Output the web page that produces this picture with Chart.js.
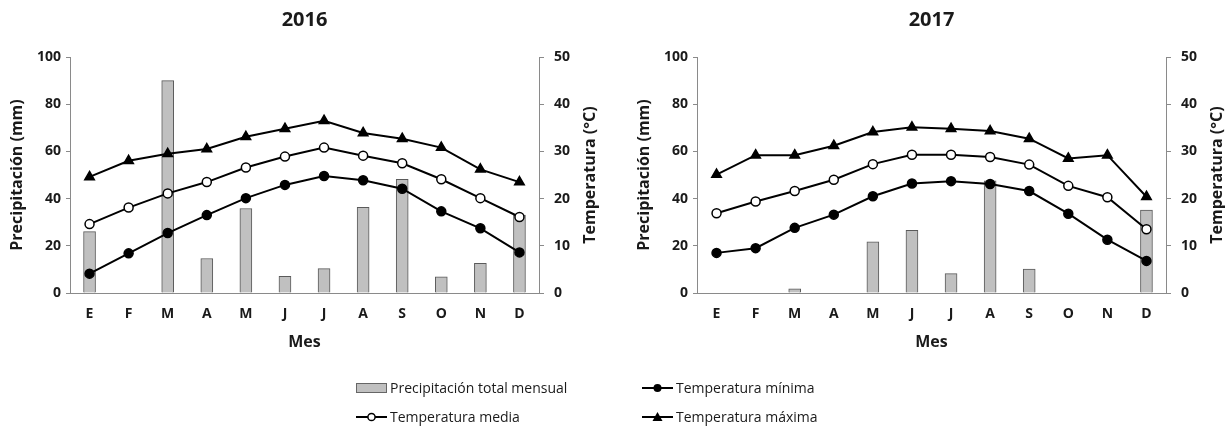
<!DOCTYPE html>
<html>
<head>
<meta charset="utf-8">
<script src="https://cdn.jsdelivr.net/npm/chart.js@4"></script>
<style>
  body { margin: 0; background: #fff; width: 1225px; height: 431px; position: relative; overflow: hidden; font-family: "Open Sans", sans-serif; }
  .box { position: absolute; top: 0; width: 600px; height: 360px; }
  #legend { position: absolute; left: 0; top: 0; width: 1225px; height: 431px; pointer-events: none; }
  .item { position: absolute; display: flex; align-items: center; font-size: 14px; color: #1a1a1a; white-space: nowrap; }
  .item svg { margin-right: 3px; }
</style>
</head>
<body>
<div class="box" style="left:0"><canvas id="chart2016" width="600" height="360"></canvas></div>
<div class="box" style="left:627px"><canvas id="chart2017" width="600" height="360"></canvas></div>

<div id="legend">
  <div class="item" style="left:356px; top:378px">
    <svg width="31" height="12"><rect x="0.5" y="1.5" width="30" height="9" fill="#c0c0c0" stroke="#666"/></svg>
    Precipitación total mensual
  </div>
  <div class="item" style="left:642px; top:378px">
    <svg width="31" height="12"><line x1="0" y1="6" x2="31" y2="6" stroke="#000" stroke-width="2"/><circle cx="15.5" cy="6" r="4" fill="#000"/></svg>
    Temperatura mínima
  </div>
  <div class="item" style="left:356px; top:407px">
    <svg width="31" height="12"><line x1="0" y1="6" x2="31" y2="6" stroke="#000" stroke-width="2"/><circle cx="15.5" cy="6" r="3.6" fill="#fff" stroke="#000" stroke-width="1.5"/></svg>
    Temperatura media
  </div>
  <div class="item" style="left:642px; top:407px">
    <svg width="31" height="12"><line x1="0" y1="6" x2="31" y2="6" stroke="#000" stroke-width="2"/><polygon points="15.5,1 20.5,10 10.5,10" fill="#000"/></svg>
    Temperatura máxima
  </div>
</div>

<script>
// datos
const meses = ["E", "F", "M", "A", "M", "J", "J", "A", "S", "O", "N", "D"];

const precip2016 = [26, 0, 90, 14.6, 35.8, 7.1, 10.3, 36.3, 48.2, 6.8, 12.6, 33];
const tMin2016 = [4.1, 8.4, 12.7, 16.5, 20.1, 22.9, 24.8, 23.9, 22.1, 17.3, 13.7, 8.6];
const tMed2016 = [14.6, 18.1, 21.1, 23.5, 26.6, 28.9, 30.8, 29.1, 27.5, 24.1, 20.1, 16.1];
const tMax2016 = [24.6, 28.0, 29.5, 30.5, 33.1, 34.8, 36.5, 33.9, 32.7, 30.8, 26.2, 23.5];

const precip2017 = [0, 0, 1.8, 0, 21.7, 26.6, 8.2, 47.5, 10.1, 0, 0, 35.1];
const tMin2017 = [8.5, 9.5, 13.8, 16.6, 20.5, 23.2, 23.7, 23.1, 21.6, 16.8, 11.3, 6.8];
const tMed2017 = [16.9, 19.4, 21.6, 24.0, 27.3, 29.3, 29.3, 28.8, 27.2, 22.7, 20.3, 13.5];
const tMax2017 = [25.1, 29.2, 29.2, 31.2, 34.1, 35.1, 34.8, 34.3, 32.7, 28.5, 29.2, 20.4];

const precipTicks = [0, 20, 40, 60, 80, 100];
const tempTicks = [0, 10, 20, 30, 40, 50];

const textColor = "#1a1a1a";
const axisColor = "#8a8a8a";
const tickFont = { family: "Open Sans", size: 14, weight: "bold" };
const titleFont = { family: "Open Sans", size: 16, weight: "bold" };

// titulo del eje derecho, girado igual que el izquierdo
const rightTitlePlugin = {
  id: "rightTitle",
  afterDraw(chart) {
    const { ctx, chartArea } = chart;
    ctx.save();
    ctx.font = "bold 16px 'Open Sans'";
    ctx.fillStyle = textColor;
    ctx.textAlign = "center";
    ctx.textBaseline = "middle";
    ctx.translate(chart.width - 10, (chartArea.top + chartArea.bottom) / 2);
    ctx.rotate(-Math.PI / 2);
    ctx.fillText("Temperatura (°C)", 0, 0);
    ctx.restore();
  },
};

const lineSet = (label, data, style, fill) => ({
  type: "line",
  label,
  data,
  yAxisID: "yT",
  borderColor: "#000",
  borderWidth: 2,
  pointStyle: style,
  pointRadius: style === "triangle" ? 5.5 : 4.5,
  pointBackgroundColor: fill,
  pointBorderColor: "#000",
  pointBorderWidth: 1.5,
  order: 1,
});

const buildChart = (id, title, precip, tMin, tMed, tMax) => {
  const config = {
    type: "bar",
    data: {
      labels: meses,
      datasets: [
        lineSet("Temperatura máxima", tMax, "triangle", "#000"),
        lineSet("Temperatura media", tMed, "circle", "#fff"),
        lineSet("Temperatura mínima", tMin, "circle", "#000"),
        {
          label: "Precipitación total mensual",
          data: precip,
          yAxisID: "yP",
          backgroundColor: "#c0c0c0",
          borderColor: "#5a5a5a",
          borderWidth: 1,
          barThickness: 12,
          order: 10,
        },
      ],
    },
    options: {
      responsive: false,
      animation: false,
      events: [],
      layout: { padding: 0 },
      plugins: {
        legend: { display: false },
        tooltip: { enabled: false },
        title: {
          display: true,
          text: title,
          fullSize: false, // centrado sobre el área del gráfico
          color: textColor,
          font: { family: "Open Sans", size: 20, weight: "bold" },
          padding: { top: 8, bottom: 25 },
        },
      },
      scales: {
        x: {
          grid: { display: false },
          border: { display: true, color: axisColor, width: 1 },
          ticks: { color: textColor, font: tickFont, padding: 5, maxRotation: 0 },
          title: {
            display: true,
            text: "Mes",
            color: textColor,
            font: titleFont,
            padding: { top: 0, bottom: 8 },
          },
          afterFit: (scale) => { scale.height = 67; },
        },
        yP: {
          position: "left",
          min: 0,
          max: 100,
          afterBuildTicks: (scale) => { scale.ticks = precipTicks.map((v) => ({ value: v })); },
          grid: { drawOnChartArea: false, drawTicks: true, tickLength: 4, color: axisColor },
          border: { display: true, color: axisColor, width: 1 },
          ticks: { color: textColor, font: tickFont, padding: 5 },
          title: {
            display: true,
            text: "Precipitación (mm)",
            color: textColor,
            font: titleFont,
            padding: { top: 8, bottom: 8 },
          },
          afterFit: (scale) => { scale.width = 70; },
        },
        yT: {
          position: "right",
          min: 0,
          max: 50,
          afterBuildTicks: (scale) => { scale.ticks = tempTicks.map((v) => ({ value: v })); },
          grid: { drawOnChartArea: false, drawTicks: true, tickLength: 5, color: axisColor },
          border: { display: true, color: axisColor, width: 1 },
          ticks: { color: textColor, font: tickFont, padding: 10 },
          afterFit: (scale) => { scale.width = 61; },
        },
      },
    },
    plugins: [rightTitlePlugin],
  };
  return new Chart(document.getElementById(id), config);
};

buildChart("chart2016", "2016", precip2016, tMin2016, tMed2016, tMax2016);
buildChart("chart2017", "2017", precip2017, tMin2017, tMed2017, tMax2017);
</script>
</body>
</html>
